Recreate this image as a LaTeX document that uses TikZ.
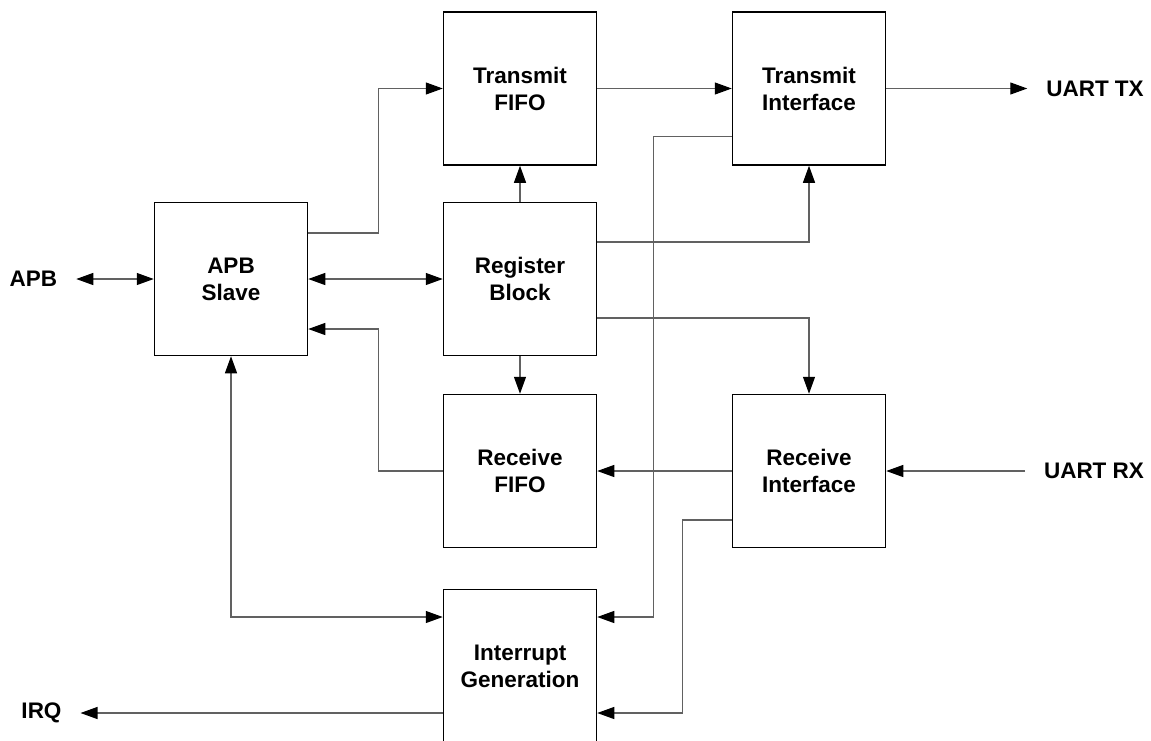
\documentclass[tikz,border=0pt]{standalone}
\usepackage{fontspec}
\setmainfont{Liberation Sans}
\usetikzlibrary{arrows.meta}
\begin{document}
\begin{tikzpicture}[x=1pt, y=-1pt, font=\fontsize{22.5}{27}\selectfont\bfseries]
			\useasboundingbox (0,0) rectangle (1151,740);
			\tikzset{
				block/.style={draw, line width=1.5pt, minimum width=153pt, minimum height=153pt, align=center, inner sep=0pt},
				port/.style={inner sep=0pt, outer xsep=19pt},
				wire/.style={draw=black!62, line width=1.2pt, arrows={-Triangle[length=17pt, width=12pt, black]}},
				wire2/.style={wire, arrows={Triangle[length=17pt, width=12pt, black]-Triangle[length=17pt, width=12pt, black]}},
				wire0/.style={draw=black!62, line width=1.2pt}
			}
			\node[block] (txfifo) at (520, 88.5) {Transmit\\FIFO};
			\node[block] (txif) at (809, 88.5) {Transmit\\Interface};
			\node[block] (apb) at (231, 279) {APB\\Slave};
			\node[block] (regblk) at (520, 279) {Register\\Block};
			\node[block] (rxfifo) at (520, 471) {Receive\\FIFO};
			\node[block] (rxif) at (809, 471) {Receive\\Interface};
			\node[block] (irqgen) at (520, 666) {Interrupt\\Generation};
			\node[port] (apblbl) at (33.5, 279) {APB};
			\node[port] (irqlbl) at (41.5, 713) {IRQ};
			\node[port] (uarttx) at (1095, 88.5) {UART TX};
			\node[port] (uartrx) at (1094, 471) {UART RX};
			\draw[wire2] (apblbl) -- (apb);
			\draw[wire2] (apb) -- (regblk);
			\draw[wire] ([yshift=46pt]apb.east) -- ++(70pt,0) |- (txfifo.west);
			\draw[wire] (rxfifo.west) -- ++(-64pt,0) |- ([yshift=-50pt]apb.east);
			\draw[wire] (regblk) -- (txfifo);
			\draw[wire] (regblk) -- (rxfifo);
			\draw[wire] (txfifo) -- (txif);
			\draw[wire] (txif) -- (uarttx);
			\draw[wire] ([yshift=37pt]regblk.east) -| (txif.south);
			\draw[wire] ([yshift=-39pt]regblk.east) -| (rxif.north);
			\draw[wire] (rxif) -- (rxfifo);
			\draw[wire] (uartrx) -- (rxif);
			\draw[wire] ([yshift=-48pt]txif.west) -- ++(-78pt,0) |- ([yshift=49pt]irqgen.east);
			\draw[wire] ([yshift=-49pt]rxif.west) -- ++(-49pt,0) |- ([yshift=-47pt]irqgen.east);
			\draw[wire2] (apb.south) |- ([yshift=49pt]irqgen.west);
			\draw[wire] ([yshift=-47pt]irqgen.west) -- (irqlbl);
		\end{tikzpicture}
\end{document}
